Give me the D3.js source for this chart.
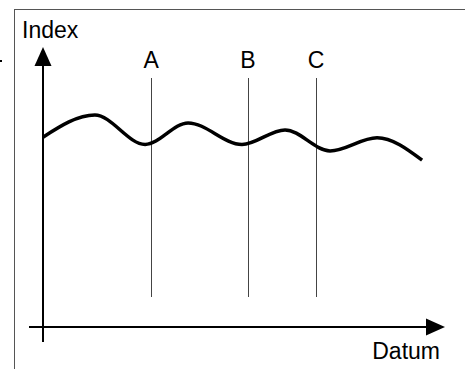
<!DOCTYPE html>
<html>
<head>
<meta charset="utf-8">
<script src="https://cdn.jsdelivr.net/npm/d3@7"></script>
<style>
  html, body { margin: 0; padding: 0; background: #fff; }
  svg { display: block; }
  text { font-family: "Liberation Sans", Arial, sans-serif; fill: #000; }
</style>
</head>
<body>
<svg></svg>
<script>
// curve points (Datum, Index): start, peaks, troughs, end
let datum = [0, 12.9, 25.4, 36.1, 49.5, 60.2, 71.4, 83.1, 94.3]
let index = [67.8, 75.7, 65.2, 72.9, 65.2, 70.4, 62.9, 67.6, 59.6]

let markerNames = ['A', 'B', 'C']
let markerPos = [26.9, 51.0, 67.9]

let width = 465
let height = 369

let svg = d3.select('svg')
    .attr('width', width)
    .attr('height', height)

let xScale = d3.scaleLinear().domain([0, 100]).range([43, 445])
let yScale = d3.scaleLinear().domain([0, 100]).range([327, 47])

// frame
svg.append('line')
    .attr('x1', 14).attr('y1', 9.5).attr('x2', width).attr('y2', 9.5)
    .attr('stroke', '#555').attr('stroke-width', 1)
svg.append('line')
    .attr('x1', 14.5).attr('y1', 9).attr('x2', 14.5).attr('y2', height)
    .attr('stroke', '#555').attr('stroke-width', 1)
svg.append('rect')
    .attr('x', 0).attr('y', 60).attr('width', 2).attr('height', 2)
    .attr('fill', '#000')

// marker lines
let x0 = xScale(0)
let y0 = yScale(0)
svg.selectAll('.marker')
    .data(markerPos)
    .enter()
    .append('line')
    .attr('class', 'marker')
    .attr('x1', (d) => Math.round(xScale(d)) + 0.5)
    .attr('x2', (d) => Math.round(xScale(d)) + 0.5)
    .attr('y1', 78)
    .attr('y2', 297)
    .attr('stroke', '#444')
    .attr('stroke-width', 1)

svg.selectAll('.marker-label')
    .data(markerNames)
    .enter()
    .append('text')
    .attr('class', 'marker-label')
    .attr('x', (d, i) => xScale(markerPos[i]))
    .attr('y', 68)
    .attr('text-anchor', 'middle')
    .style('font-size', '23px')
    .text((d) => d)

// axes
let arrowLen = 19
let arrowHalf = 8.5
svg.append('line')
    .attr('x1', x0 - 14).attr('y1', y0)
    .attr('x2', xScale(100) - arrowLen + 2).attr('y2', y0)
    .attr('stroke', '#000').attr('stroke-width', 2)
svg.append('path')
    .attr('d', 'M' + xScale(100) + ',' + y0 +
               'L' + (xScale(100) - arrowLen) + ',' + (y0 - arrowHalf) +
               'L' + (xScale(100) - arrowLen) + ',' + (y0 + arrowHalf) + 'Z')
    .attr('fill', '#000')

svg.append('line')
    .attr('x1', x0).attr('y1', y0 + 15)
    .attr('x2', x0).attr('y2', yScale(100) + arrowLen - 2)
    .attr('stroke', '#000').attr('stroke-width', 2)
svg.append('path')
    .attr('d', 'M' + x0 + ',' + yScale(100) +
               'L' + (x0 - arrowHalf) + ',' + (yScale(100) + arrowLen) +
               'L' + (x0 + arrowHalf) + ',' + (yScale(100) + arrowLen) + 'Z')
    .attr('fill', '#000')

svg.append('text')
    .attr('x', 22)
    .attr('y', 38)
    .style('font-size', '23px')
    .text('Index')

svg.append('text')
    .attr('x', 440)
    .attr('y', 359)
    .attr('text-anchor', 'end')
    .style('font-size', '23px')
    .text('Datum')

// curve
let line = d3.line()
    .x((d, i) => xScale(datum[i]))
    .y((d) => yScale(d))
    .curve(d3.curveMonotoneX)

svg.append('path')
    .datum(index)
    .attr('d', line)
    .attr('fill', 'none')
    .attr('stroke', '#000')
    .attr('stroke-width', 3.5)
    .attr('stroke-linejoin', 'round')
</script>
</body>
</html>
